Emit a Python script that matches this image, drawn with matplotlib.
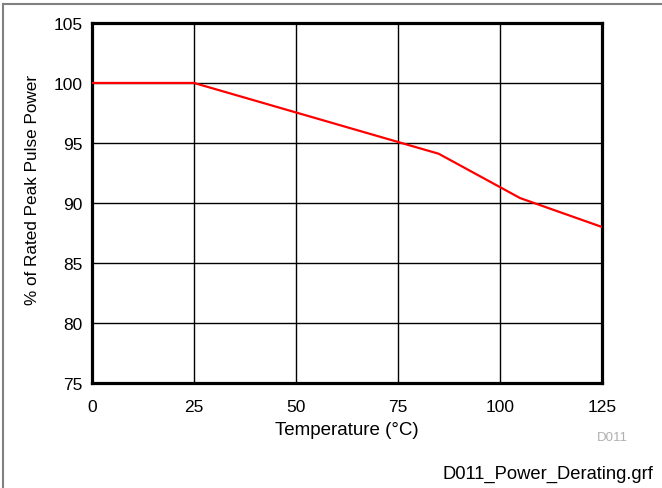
import matplotlib.pyplot as plt
from matplotlib.lines import Line2D

# power derating curve
temperature = [0, 25, 85, 105, 125]
peak_power_pct = [100, 100, 94.1, 90.4, 88.0]

x_ticks = [0, 25, 50, 75, 100, 125]
y_ticks = [75, 80, 85, 90, 95, 100, 105]

plt.rcParams['font.family'] = ['Liberation Sans', 'DejaVu Sans']

fig = plt.figure(figsize=(6.62, 4.89), dpi=100)
ax = fig.add_axes([0.139, 0.215, 0.770, 0.736])

ax.plot(temperature, peak_power_pct, color='#ff0000', linewidth=1.6, zorder=3)

ax.set_xlim(0, 125)
ax.set_ylim(75, 105)
ax.set_xticks(x_ticks)
ax.set_yticks(y_ticks)
ax.grid(True, color='black', linewidth=1.0)
ax.tick_params(length=0, labelsize=12.5)
ax.tick_params(axis='x', pad=11.5)
ax.tick_params(axis='y', pad=6.5)
for s in ax.spines.values():
    s.set_linewidth(2.3)

ax.set_xlabel('Temperature (°C)', fontsize=13.5, labelpad=5)
ax.set_ylabel('% of Rated Peak Pulse Power', fontsize=12.3)
ax.yaxis.set_label_coords(-0.102, 0.539)

fig.text(0.949, 0.104, 'D011', fontsize=9.5, color='#b0b0b0', ha='right', va='center')
fig.text(0.987, 0.0204, 'D011_Power_Derating.grf', fontsize=13.2, ha='right', va='baseline')

# outer frame (left and top edges)
fig.add_artist(Line2D([0.005, 0.005], [0, 0.99], transform=fig.transFigure, color='#808080', linewidth=1.5))
fig.add_artist(Line2D([0.005, 1.0], [0.989, 0.989], transform=fig.transFigure, color='#808080', linewidth=1.5))

fig.savefig('out.png', dpi=100)
